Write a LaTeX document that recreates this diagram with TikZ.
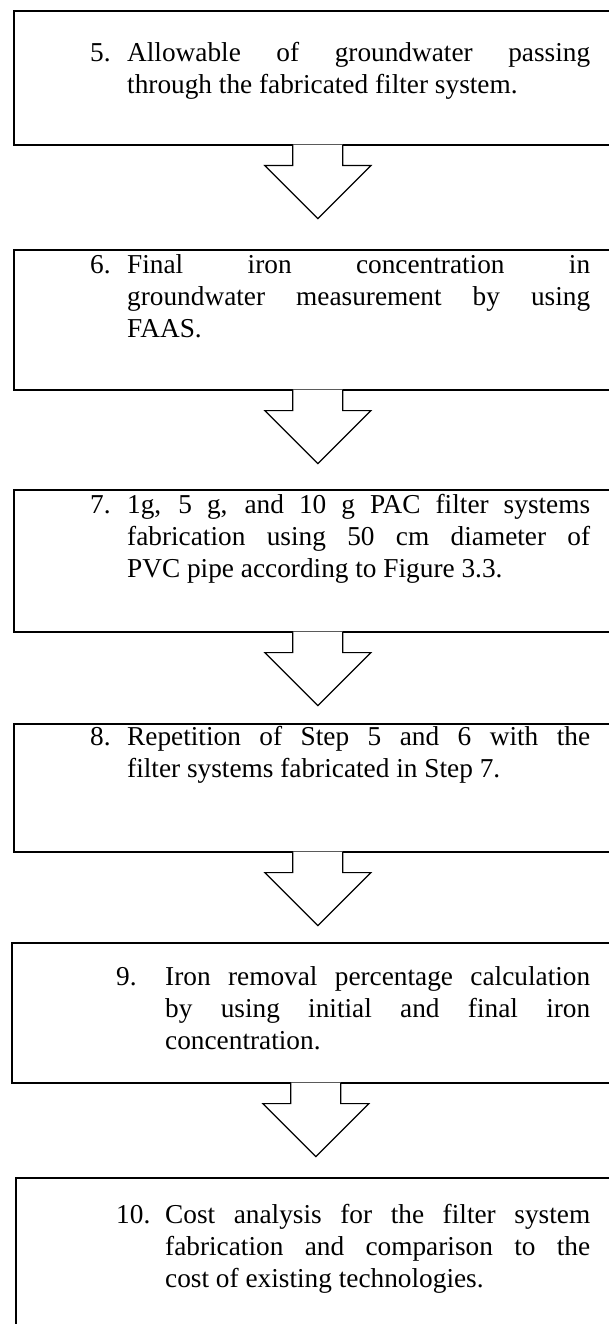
\documentclass[tikz,border=0pt]{standalone}
\usepackage{fontspec}
\setmainfont{Liberation Serif}
\usetikzlibrary{positioning, calc}

\tikzset{
  stepbox/.style={
    draw=black, line width=1.6pt,
    minimum width=608pt,
    anchor=north west,
    inner sep=0pt
  },
  steptext/.style={
    anchor=base west,
    inner sep=0pt,
    font=\fontsize{27.3pt}{32pt}\selectfont
  },
  downarrow/.style={
    draw=black, fill=white,
    line width=1.2pt,
    line join=miter
  }
}
% number in a fixed column, then the justified text
\newcommand{\stepitem}[4]{%
  \makebox[#2][l]{#1}\parbox[t]{#3}{\tolerance=10000\hbadness=10000 #4}%
}
% hollow block arrow hanging from the bottom of a box
\newcommand{\flowarrow}[2]{%
  \coordinate (#2) at ($(#1.south)+(0,73)$);
  \path[downarrow] ($(#1.south)+(-25,-1)$) -- ++(0,21) -- ++(-28,0)
    -- (#2) -- ($(#1.south)+(53,20)$) -- ++(-28,0) -- ++(0,-21);
}

\begin{document}
\begin{tikzpicture}[x=1pt, y=-1pt]
  \useasboundingbox (0,0) rectangle (609,1324);
  \clip (0,0) rectangle (609,1324);

  % boxes
  \node[stepbox, minimum height=134pt] (s5) at (13,10) {};
  \node[stepbox, minimum height=140pt] (s6) at (13,249) {};
  \node[stepbox, minimum height=142pt] (s7) at (13,489) {};
  \node[stepbox, minimum height=128pt] (s8) at (13,723) {};
  \node[stepbox, minimum height=140pt] (s9) at (11,942) {};
  \node[stepbox, minimum height=200pt] (s10) at (15,1177) {};

  % texts
  \node[steptext] (t5) at ($(s5.north west)+(77,52)$)
    {\stepitem{5.}{37pt}{463pt}{Allowable of groundwater passing\linebreak
     through the fabricated filter system.}};
  \node[steptext] (t6) at ($(s6.north west)+(77,24)$)
    {\stepitem{6.}{37pt}{463pt}{Final iron concentration in\linebreak
     groundwater measurement by using\linebreak FAAS.}};
  \node[steptext] (t7) at ($(s7.north west)+(77,24)$)
    {\stepitem{7.}{37pt}{463pt}{1g, 5 g, and 10 g PAC filter systems\linebreak
     fabrication using 50 cm diameter of\linebreak PVC pipe according to Figure 3.3.}};
  \node[steptext] (t8) at ($(s8.north west)+(77,22)$)
    {\stepitem{8.}{37pt}{463pt}{Repetition of Step 5 and 6 with the\linebreak
     filter systems fabricated in Step 7.}};
  \node[steptext] (t9) at ($(s9.north west)+(105,43)$)
    {\stepitem{9.}{49pt}{425pt}{Iron removal percentage calculation\linebreak
     by using initial and final iron\linebreak concentration.}};
  \node[steptext] (t10) at ($(s10.north west)+(101,46)$)
    {\stepitem{10.}{49pt}{425pt}{Cost analysis for the filter system\linebreak
     fabrication and comparison to the\linebreak cost of existing technologies.}};

  % arrows between the steps
  \flowarrow{s5}{tip5}
  \flowarrow{s6}{tip6}
  \flowarrow{s7}{tip7}
  \flowarrow{s8}{tip8}
  \flowarrow{s9}{tip9}
\end{tikzpicture}
\end{document}
